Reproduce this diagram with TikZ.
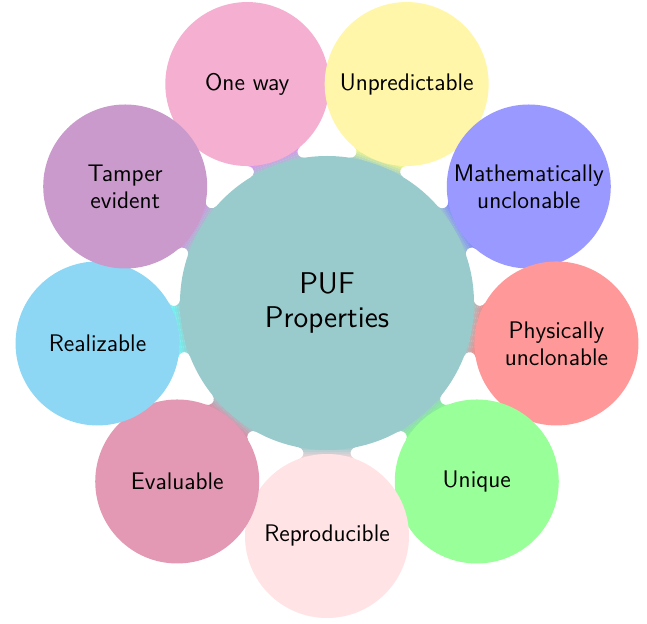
\documentclass[tikz,border=0pt]{standalone}
\pgfdeclarelayer{background}
\pgfsetlayers{background,main}
\definecolor{cc}{HTML}{9ACBCC}
\definecolor{c1}{HTML}{F4AFD1}
\definecolor{c2}{HTML}{FFF6AA}
\definecolor{c3}{HTML}{9999FF}
\definecolor{c4}{HTML}{FF9999}
\definecolor{c5}{HTML}{99FF99}
\definecolor{c6}{HTML}{FFE3E5}
\definecolor{c7}{HTML}{E399B3}
\definecolor{c8}{HTML}{8DD7F5}
\definecolor{c9}{HTML}{C99ACB}
\definecolor{b1}{HTML}{E68CF0}
\definecolor{b2}{HTML}{FFFF80}
\definecolor{b3}{HTML}{8080FF}
\definecolor{b4}{HTML}{FF8080}
\definecolor{b5}{HTML}{80FF80}
\definecolor{b6}{HTML}{FFD6DA}
\definecolor{b7}{HTML}{E8809F}
\definecolor{b8}{HTML}{66FFFF}
\definecolor{b9}{HTML}{D98CE0}
\tikzset{
  centerbubble/.style={circle, fill=cc, minimum size=147pt, inner sep=0pt, align=center,
    font=\sffamily\fontsize{15}{17}\selectfont},
  bubble/.style={circle, minimum size=82pt, inner sep=0pt, align=center,
    font=\sffamily\fontsize{12}{13.5}\selectfont},
}
\begin{document}
\begin{tikzpicture}[x=1pt,y=1pt]
\useasboundingbox (-163.5,-160.5) rectangle (160,151.5);
\node[centerbubble] (c) at (0,0) {PUF\\Properties};
\node[bubble, fill=c1] (n1) at (110:116.5) {One way};
\node[bubble, fill=c2] (n2) at (70:116.5) {Unpredictable};
\node[bubble, fill=c3] (n3) at (30:116.5) {Mathematically\\unclonable};
\node[bubble, fill=c4] (n4) at (-10:116.5) {Physically\\unclonable};
\node[bubble, fill=c5] (n5) at (-50:116.5) {Unique};
\node[bubble, fill=c6] (n6) at (-90:116.5) {Reproducible};
\node[bubble, fill=c7] (n7) at (-130:116.5) {Evaluable};
\node[bubble, fill=c8] (n8) at (-170:116.5) {Realizable};
\node[bubble, fill=c9] (n9) at (150:116.5) {Tamper\\evident};
\begin{pgfonlayer}{background}
\foreach \i/\a in {1/110,2/70,3/30,4/-10,5/-50,6/-90,7/-130,8/-170,9/150}{
  \begin{scope}[shift={(c.center)}, rotate=\a]
    \clip (0,0) -- (72.12,14.19) arc[start angle=191.13, end angle=340.38, radius=3]
      -- (116.5,0) -- (77.89,-13.76) arc[start angle=19.62, end angle=168.87, radius=3]
      -- cycle;
    \fill[cc] (0,-20) rectangle (72.5,20);
    \fill[cc!84!b\i] (72.4,-20) rectangle (73.5,20);
    \fill[cc!68!b\i] (73.4,-20) rectangle (74.5,20);
    \fill[cc!52!b\i] (74.4,-20) rectangle (75.5,20);
    \fill[cc!36!b\i] (75.4,-20) rectangle (76.5,20);
    \fill[cc!20!b\i] (76.4,-20) rectangle (77.5,20);
    \fill[b\i] (77.4,-20) rectangle (116.5,20);
  \end{scope}
}
\end{pgfonlayer}
\end{tikzpicture}
\end{document}
